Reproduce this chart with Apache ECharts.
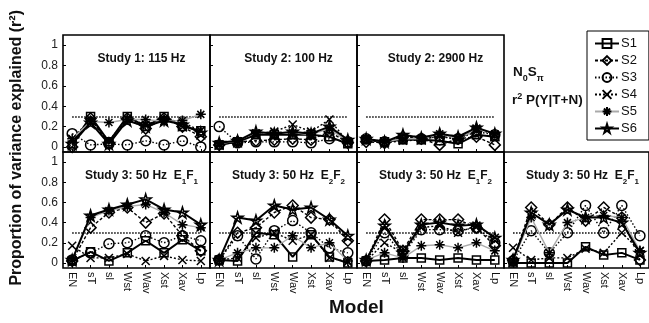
<!DOCTYPE html>
<html>
<head>
<meta charset="UTF-8">
<title>Proportion of variance explained</title>
<script src="https://cdn.jsdelivr.net/npm/echarts@6/dist/echarts.min.js"></script>
<style>
  html, body { margin: 0; padding: 0; background: #fff; }
  #chart { width: 649px; height: 323px; }
</style>
</head>
<body>
<div id="chart"></div>
<script>
var categories = ['EN', 'sT', 'sl', 'Wst', 'Wav', 'Xst', 'Xav', 'Lp'];
var seriesNames = ['S1', 'S2', 'S3', 'S4', 'S5', 'S6'];
var yTicks = [0, 0.2, 0.4, 0.6, 0.8, 1];
var refLevel = 0.3;

// each panel: rows S1..S6
var study1_115 = [
  [0.02, 0.30, 0.05, 0.30, 0.20, 0.30, 0.20, 0.16],
  [0.00, 0.28, 0.03, 0.28, 0.18, 0.28, 0.20, 0.10],
  [0.13, 0.02, 0.03, 0.02, 0.06, 0.02, 0.06, 0.00],
  [0.08, 0.27, 0.06, 0.28, 0.22, 0.28, 0.24, 0.16],
  [0.08, 0.25, 0.24, 0.27, 0.27, 0.25, 0.26, 0.32],
  [0.03, 0.24, 0.03, 0.26, 0.20, 0.26, 0.22, 0.14]
];
var study2_100 = [
  [0.02, 0.05, 0.12, 0.12, 0.12, 0.12, 0.10, 0.03],
  [0.02, 0.05, 0.06, 0.07, 0.08, 0.07, 0.15, 0.04],
  [0.20, 0.04, 0.05, 0.05, 0.05, 0.04, 0.08, 0.05],
  [0.02, 0.05, 0.13, 0.15, 0.22, 0.15, 0.27, 0.05],
  [0.03, 0.06, 0.14, 0.14, 0.14, 0.12, 0.18, 0.05],
  [0.04, 0.06, 0.15, 0.13, 0.15, 0.13, 0.20, 0.07]
];
var study2_2900 = [
  [0.07, 0.05, 0.07, 0.07, 0.06, 0.03, 0.12, 0.10],
  [0.05, 0.04, 0.10, 0.08, 0.02, 0.08, 0.10, 0.02],
  [0.08, 0.05, 0.08, 0.08, 0.10, 0.08, 0.15, 0.12],
  [0.07, 0.04, 0.06, 0.07, 0.11, 0.07, 0.18, 0.12],
  [0.08, 0.05, 0.08, 0.08, 0.13, 0.08, 0.18, 0.13],
  [0.08, 0.05, 0.12, 0.09, 0.13, 0.10, 0.19, 0.13]
];
var study3_E1F1 = [
  [0.02, 0.11, 0.02, 0.10, 0.22, 0.10, 0.23, 0.12],
  [0.02, 0.35, 0.50, 0.55, 0.40, 0.49, 0.27, 0.12],
  [0.03, 0.10, 0.19, 0.20, 0.27, 0.20, 0.27, 0.22],
  [0.17, 0.05, 0.05, 0.09, 0.02, 0.07, 0.03, 0.02],
  [0.03, 0.45, 0.52, 0.56, 0.58, 0.50, 0.38, 0.35],
  [0.03, 0.47, 0.53, 0.58, 0.63, 0.53, 0.50, 0.38]
];
var study3_E2F2 = [
  [0.03, 0.02, 0.30, 0.28, 0.06, 0.28, 0.06, 0.00],
  [0.03, 0.30, 0.35, 0.50, 0.57, 0.45, 0.43, 0.22],
  [0.03, 0.27, 0.04, 0.32, 0.42, 0.30, 0.15, 0.10],
  [0.03, 0.05, 0.25, 0.30, 0.22, 0.28, 0.05, 0.01],
  [0.03, 0.10, 0.15, 0.15, 0.27, 0.15, 0.20, 0.02],
  [0.03, 0.45, 0.42, 0.57, 0.53, 0.55, 0.43, 0.27]
];
var study3_E1F2 = [
  [0.02, 0.03, 0.05, 0.05, 0.03, 0.05, 0.03, 0.03],
  [0.02, 0.43, 0.12, 0.43, 0.43, 0.43, 0.35, 0.17],
  [0.02, 0.30, 0.08, 0.33, 0.33, 0.32, 0.35, 0.20],
  [0.02, 0.20, 0.10, 0.35, 0.37, 0.30, 0.37, 0.25],
  [0.03, 0.10, 0.05, 0.17, 0.18, 0.15, 0.20, 0.12],
  [0.03, 0.37, 0.10, 0.38, 0.40, 0.37, 0.38, 0.25]
];
var study3_E2F1 = [
  [0.00, 0.00, 0.00, 0.00, 0.16, 0.08, 0.10, 0.03],
  [0.03, 0.55, 0.38, 0.55, 0.42, 0.55, 0.45, 0.03],
  [0.02, 0.32, 0.10, 0.30, 0.57, 0.30, 0.57, 0.27],
  [0.15, 0.03, 0.05, 0.05, 0.14, 0.10, 0.30, 0.12],
  [0.02, 0.45, 0.10, 0.40, 0.45, 0.47, 0.45, 0.12],
  [0.03, 0.50, 0.38, 0.53, 0.45, 0.45, 0.40, 0.10]
];

var FONT = 'Liberation Sans, Arial, sans-serif';

// panel layout: data, title (rich), grid box, show y labels, show x labels
var panels = [
  { data: study1_115,  title: '{t|Study 1: 115 Hz}', left: 63,  top: 35,  h: 117, yl: true,  xl: false },
  { data: study2_100,  title: '{t|Study 2: 100 Hz}', left: 210, top: 35,  h: 117, yl: false, xl: false },
  { data: study2_2900, title: '{t|Study 2: 2900 Hz}', left: 357, top: 35, h: 117, yl: false, xl: false },
  { data: study3_E1F1, title: '{t|Study 3: 50 Hz  E}{s|1}{t|F}{s|1}', left: 63,  top: 152, h: 116, yl: true,  xl: true },
  { data: study3_E2F2, title: '{t|Study 3: 50 Hz  E}{s|2}{t|F}{s|2}', left: 210, top: 152, h: 116, yl: false, xl: true },
  { data: study3_E1F2, title: '{t|Study 3: 50 Hz  E}{s|1}{t|F}{s|2}', left: 357, top: 152, h: 116, yl: false, xl: true },
  { data: study3_E2F1, title: '{t|Study 3: 50 Hz  E}{s|2}{t|F}{s|1}', left: 504, top: 152, h: 116, yl: false, xl: true }
];
var PW = 147;

var STAR = 'path://M5,0L6.12,3.46L9.76,3.45L6.81,5.59L7.94,9.05L5,6.9L2.06,9.05L3.19,5.59L0.24,3.45L3.88,3.46Z';
var styles = [
  { symbol: 'rect',    size: 8,  line: { color: '#000', width: 2, type: 'solid' } },
  { symbol: 'diamond', size: 11, line: { color: '#000', width: 1.4, type: [3, 2] } },
  { symbol: 'circle',  size: 10, line: { color: '#000', width: 1.4, type: [1.5, 2] } },
  { symbol: 'path://M0,0L10,10M10,0L0,10', size: 8, line: { color: '#000', width: 1.4, type: [2, 2] } },
  { symbol: 'path://M5,0L5,10M0,5L10,5M1.5,1.5L8.5,8.5M8.5,1.5L1.5,8.5', size: 10, line: { color: '#aaa', width: 1.4, type: 'solid' } },
  { symbol: STAR,      size: 11, line: { color: '#000', width: 2, type: 'solid' } }
];

var richSub = {
  t: { fontFamily: FONT, fontSize: 12, fontWeight: 'bold', color: '#111', lineHeight: 14, verticalAlign: 'top' },
  s: { fontFamily: FONT, fontSize: 8, fontWeight: 'bold', color: '#111', lineHeight: 8, padding: [8, 0, 0, 0], verticalAlign: 'top' },
  T: { fontFamily: FONT, fontSize: 13.5, fontWeight: 'bold', color: '#111', lineHeight: 16, verticalAlign: 'top' },
  S: { fontFamily: FONT, fontSize: 9, fontWeight: 'bold', color: '#111', lineHeight: 9, padding: [9, 0, 0, 0], verticalAlign: 'top' },
  P: { fontFamily: FONT, fontSize: 9, fontWeight: 'bold', color: '#111', lineHeight: 9, padding: [-1, 0, 0, 0], verticalAlign: 'top' }
};

var grids = [], xAxes = [], yAxes = [], series = [], titles = [];
panels.forEach(function (p, i) {
  grids.push({
    left: p.left, top: p.top, width: PW, height: p.h,
    show: true, borderColor: '#000', borderWidth: 1.6, backgroundColor: 'transparent'
  });
  xAxes.push({
    type: 'category', gridIndex: i, data: categories, boundaryGap: true,
    axisLine: { show: false, onZero: false },
    axisTick: { show: true, inside: true, alignWithLabel: true, length: 3, lineStyle: { color: '#000' } },
    axisLabel: {
      show: p.xl, rotate: -90, interval: 0, margin: 4,
      fontFamily: FONT, fontSize: 11, color: '#111'
    },
    splitLine: { show: false }
  });
  yAxes.push({
    type: 'value', gridIndex: i, min: -0.05, max: 1.1,
    axisLine: { show: false, onZero: false },
    axisTick: { show: true, inside: true, length: 3, customValues: yTicks, lineStyle: { color: '#000' } },
    axisLabel: {
      show: p.yl, customValues: yTicks, margin: 5,
      fontFamily: FONT, fontSize: 12, color: '#222',
      formatter: function (v) { return String(Math.round(v * 10) / 10); }
    },
    splitLine: { show: false }
  });
  p.data.forEach(function (vals, k) {
    var st = styles[k];
    var s = {
      name: seriesNames[k], type: 'line', xAxisIndex: i, yAxisIndex: i,
      data: vals, symbol: st.symbol, symbolSize: st.size, showAllSymbol: true,
      lineStyle: st.line,
      itemStyle: { color: 'rgba(255,255,255,0)', borderColor: '#000', borderWidth: 1.5 },
      emphasis: { disabled: true }, silent: true, z: 3 + k
    };
    if (k === 0) {
      s.markLine = {
        silent: true, symbol: 'none', label: { show: false },
        lineStyle: { color: '#000', type: [1.5, 1.5], width: 1.5 },
        data: [[{ xAxis: categories[0], yAxis: refLevel }, { xAxis: categories[categories.length - 1], yAxis: refLevel }]]
      };
    }
    series.push(s);
  });
  titles.push({
    text: p.title, left: p.left + PW / 2, top: p.top + 13, textAlign: 'center',
    textStyle: { rich: richSub }
  });
});

titles.push({ text: '{T|N}{S|0}{T|S}{S|π}', left: 508, top: 60, textStyle: { rich: richSub } });
titles.push({ text: '{T|r}{P|2}{T| P(Y|T+N)}', left: 507, top: 88, textStyle: { rich: richSub } });

var chart = echarts.init(document.getElementById('chart'), null, { renderer: 'canvas' });
chart.setOption({
  animation: false,
  backgroundColor: '#fff',
  title: titles,
  grid: grids,
  xAxis: xAxes,
  yAxis: yAxes,
  series: series,
  legend: {
    data: seriesNames, orient: 'vertical', left: 587, top: 31,
    padding: [6, 12, 5, 7], itemGap: 4, itemWidth: 24, itemHeight: 11,
    borderColor: '#000', borderWidth: 1, backgroundColor: '#fff',
    textStyle: { fontFamily: FONT, fontSize: 13, color: '#111', padding: [0, 0, 0, -3] },
    selectedMode: false
  },
  graphic: [
    {
      type: 'text', left: 9, top: 10, rotation: Math.PI / 2,
      style: { text: 'Proportion of variance explained (r²)', font: 'bold 16px ' + FONT, fill: '#111' }
    },
    {
      type: 'text', left: 329, top: 298,
      style: { text: 'Model', font: 'bold 19px ' + FONT, fill: '#111' }
    }
  ]
});
</script>
</body>
</html>
